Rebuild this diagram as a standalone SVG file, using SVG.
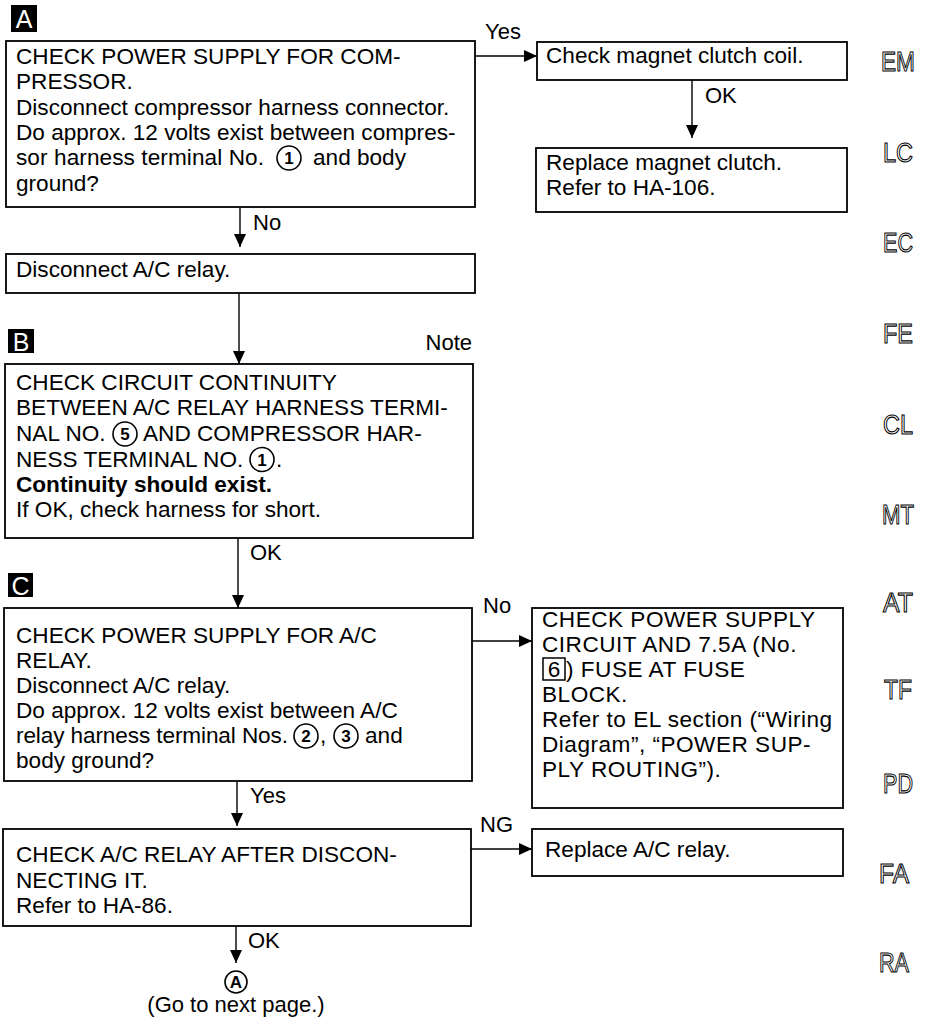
<svg xmlns="http://www.w3.org/2000/svg" width="929" height="1021" viewBox="0 0 929 1021">
<defs>
<marker id="ah" markerUnits="userSpaceOnUse" markerWidth="14" markerHeight="12" refX="13" refY="6" orient="auto">
<path d="M0,0 L13,6 L0,12 z" fill="#000"/>
</marker>
<style>
.box{fill:#fff;stroke:#000;stroke-width:1.8}
.t{font-family:"Liberation Sans",Arial,sans-serif;font-size:22.6px;fill:#000}
.b{font-weight:bold}
.ls{letter-spacing:0.5px}
.lbl{font-family:"Liberation Sans",Arial,sans-serif;font-size:22px;fill:#000}
.edge{fill:none;stroke:#000;stroke-width:1.4}
.cn{fill:#fff;stroke:#000;stroke-width:1.6}
.cd{font-family:"Liberation Sans",Arial,sans-serif;font-size:17px;font-weight:bold;text-anchor:middle;fill:#000}
.tag{fill:#000}
.tagt{font-family:"Liberation Sans",Arial,sans-serif;font-size:25px;fill:#fff;text-anchor:middle}
.side{font-family:"Liberation Sans",Arial,sans-serif;font-size:28px;fill:#fff;stroke:#000;stroke-width:1.1;text-anchor:middle}
</style>
</defs>
<rect width="929" height="1021" fill="#fff"/>

<g id="connectors">
<line class="edge" x1="475" y1="56" x2="537" y2="56" marker-end="url(#ah)"/>
<line class="edge" x1="692" y1="80" x2="692" y2="138" marker-end="url(#ah)"/>
<line class="edge" x1="240" y1="207" x2="240" y2="247" marker-end="url(#ah)"/>
<line class="edge" x1="239" y1="293" x2="239" y2="364" marker-end="url(#ah)"/>
<line class="edge" x1="238" y1="538" x2="238" y2="608" marker-end="url(#ah)"/>
<line class="edge" x1="472" y1="641" x2="532" y2="641" marker-end="url(#ah)"/>
<line class="edge" x1="237" y1="781" x2="237" y2="826" marker-end="url(#ah)"/>
<line class="edge" x1="471" y1="849" x2="532" y2="849" marker-end="url(#ah)"/>
<line class="edge" x1="236" y1="926" x2="236" y2="963" marker-end="url(#ah)"/>
<text class="lbl" x="485" y="39">Yes</text>
<text class="lbl" x="705" y="103">OK</text>
<text class="lbl" x="253" y="230">No</text>
<text class="lbl" x="250" y="560">OK</text>
<text class="lbl" x="483" y="613">No</text>
<text class="lbl" x="250" y="803">Yes</text>
<text class="lbl" x="480" y="832">NG</text>
<text class="lbl" x="248" y="948">OK</text>
</g>

<g id="tagA">
<rect class="tag" x="11" y="5" width="26" height="27"/>
<text class="tagt" x="24" y="28">A</text>
</g>
<g id="tagB">
<rect class="tag" x="8" y="329" width="26" height="24"/>
<text class="tagt" x="21" y="351">B</text>
</g>
<g id="tagC">
<rect class="tag" x="8" y="573" width="25" height="24"/>
<text class="tagt" x="20.5" y="595">C</text>
</g>

<g id="nodeA">
<rect class="box" x="6" y="41" width="469" height="166"/>
<text class="t" x="16" y="64">CHECK POWER SUPPLY FOR COM-</text>
<text class="t" x="16" y="89.3">PRESSOR.</text>
<text class="t" x="16" y="114.6">Disconnect compressor harness connector.</text>
<text class="t" x="16" y="139.9">Do approx. 12 volts exist between compres-</text>
<text class="t" x="16" y="165.2" textLength="248" lengthAdjust="spacing">sor harness terminal No.</text>
<circle class="cn" cx="289" cy="158" r="12"/>
<text class="cd" x="289" y="164">1</text>
<text class="t" x="313" y="165.2">and body</text>
<text class="t" x="16" y="190.5">ground?</text>
</g>

<g id="nodeCoil">
<rect class="box" x="537" y="42" width="310" height="38"/>
<text class="t" x="546" y="63">Check magnet clutch coil.</text>
</g>

<g id="nodeClutch">
<rect class="box" x="536" y="148" width="311" height="64"/>
<text class="t" x="546" y="170">Replace magnet clutch.</text>
<text class="t" x="546" y="195">Refer to HA-106.</text>
</g>

<g id="nodeDisconnect">
<rect class="box" x="6" y="254" width="469" height="39"/>
<text class="t" x="16" y="277">Disconnect A/C relay.</text>
</g>

<g id="nodeB">
<text class="lbl" x="472" y="350" text-anchor="end">Note</text>
<rect class="box" x="5" y="364" width="468" height="174"/>
<text class="t" x="16" y="390">CHECK CIRCUIT CONTINUITY</text>
<text class="t" x="16" y="415.4">BETWEEN A/C RELAY HARNESS TERMI-</text>
<text class="t" x="16" y="441">NAL NO.</text>
<circle class="cn" cx="125" cy="434" r="12"/>
<text class="cd" x="125" y="440">5</text>
<text class="t" x="143" y="441">AND COMPRESSOR HAR-</text>
<text class="t" x="16" y="466.5">NESS TERMINAL NO.</text>
<circle class="cn" cx="262" cy="459.5" r="12"/>
<text class="cd" x="262" y="465.5">1</text>
<text class="t" x="276" y="466.5">.</text>
<text class="t b" x="16" y="492">Continuity should exist.</text>
<text class="t" x="16" y="517">If OK, check harness for short.</text>
</g>

<g id="nodeC">
<rect class="box" x="4" y="608" width="468" height="173"/>
<text class="t" x="16" y="643">CHECK POWER SUPPLY FOR A/C</text>
<text class="t" x="16" y="668">RELAY.</text>
<text class="t" x="16" y="693">Disconnect A/C relay.</text>
<text class="t" x="16" y="718">Do approx. 12 volts exist between A/C</text>
<text class="t" x="16" y="743" textLength="272" lengthAdjust="spacing">relay harness terminal Nos.</text>
<circle class="cn" cx="306" cy="736" r="12"/>
<text class="cd" x="306" y="742">2</text>
<text class="t" x="320" y="743">,</text>
<circle class="cn" cx="346" cy="736" r="12"/>
<text class="cd" x="346" y="742">3</text>
<text class="t" x="365" y="743">and</text>
<text class="t" x="16" y="768">body ground?</text>
</g>

<g id="nodeSupply">
<rect class="box" x="532" y="608" width="311" height="200"/>
<text class="t ls" x="542" y="627">CHECK POWER SUPPLY</text>
<text class="t ls" x="542" y="652">CIRCUIT AND 7.5A (No.</text>
<rect x="543" y="658" width="22" height="22" fill="#fff" stroke="#000" stroke-width="1.5"/>
<text class="t" x="554" y="677" text-anchor="middle">6</text>
<text class="t ls" x="566" y="677">) FUSE AT FUSE</text>
<text class="t ls" x="542" y="702">BLOCK.</text>
<text class="t ls" x="542" y="727">Refer to EL section (“Wiring</text>
<text class="t ls" x="542" y="752">Diagram”, “POWER SUP-</text>
<text class="t ls" x="542" y="777">PLY ROUTING”).</text>
</g>

<g id="nodeD">
<rect class="box" x="3" y="829" width="468" height="97"/>
<text class="t" x="16" y="862">CHECK A/C RELAY AFTER DISCON-</text>
<text class="t" x="16" y="888">NECTING IT.</text>
<text class="t" x="16" y="913">Refer to HA-86.</text>
</g>

<g id="nodeReplaceRelay">
<rect class="box" x="532" y="829" width="311" height="47"/>
<text class="t" x="545" y="857">Replace A/C relay.</text>
</g>

<g id="nodeNext">
<circle cx="236" cy="982" r="11" fill="#fff" stroke="#000" stroke-width="1.6"/>
<text class="cd" x="236" y="988" font-size="16">A</text>
<text class="lbl" x="236" y="1012" text-anchor="middle">(Go to next page.)</text>
</g>

<g id="sideIndex">
<text class="side" x="898" y="71" textLength="34" lengthAdjust="spacingAndGlyphs">EM</text>
<text class="side" x="898" y="162" textLength="30" lengthAdjust="spacingAndGlyphs">LC</text>
<text class="side" x="898" y="252" textLength="30" lengthAdjust="spacingAndGlyphs">EC</text>
<text class="side" x="898" y="343" textLength="30" lengthAdjust="spacingAndGlyphs">FE</text>
<text class="side" x="898" y="434" textLength="30" lengthAdjust="spacingAndGlyphs">CL</text>
<text class="side" x="898" y="524" textLength="32" lengthAdjust="spacingAndGlyphs">MT</text>
<text class="side" x="898" y="612" textLength="30" lengthAdjust="spacingAndGlyphs">AT</text>
<text class="side" x="898" y="699" textLength="28" lengthAdjust="spacingAndGlyphs">TF</text>
<text class="side" x="898" y="793" textLength="30" lengthAdjust="spacingAndGlyphs">PD</text>
<text class="side" x="894" y="883" textLength="30" lengthAdjust="spacingAndGlyphs">FA</text>
<text class="side" x="894" y="972" textLength="30" lengthAdjust="spacingAndGlyphs">RA</text>
</g>
</svg>
